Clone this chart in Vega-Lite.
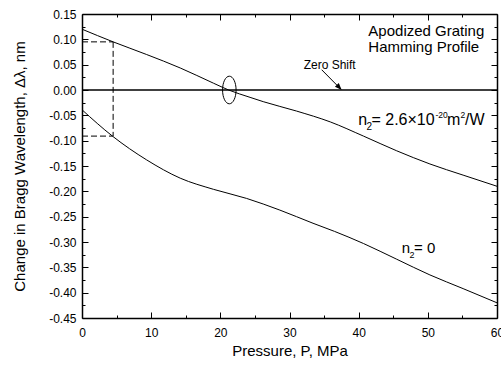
{
  "$schema": "https://vega.github.io/schema/vega-lite/v6.json",
  "width": 415,
  "height": 304,
  "autosize": {"type": "none"},
  "padding": {"left": 82, "top": 14, "right": 4, "bottom": 47},
  "background": "white",
  "config": {
    "view": {"stroke": null},
    "font": "Liberation Sans",
    "axis": {
      "grid": false,
      "domainColor": "black",
      "domainWidth": 1.5,
      "tickColor": "black",
      "tickWidth": 1,
      "tickSize": -6,
      "labelColor": "black",
      "labelFont": "Liberation Sans",
      "labelFontSize": 12,
      "titleFont": "Liberation Sans",
      "titleFontSize": 15,
      "titleFontWeight": "normal",
      "titleColor": "black"
    }
  },
  "layer": [
    {
      "data": {"values": [
        {"series": "n2=2.6e-20", "x": 0, "y": 0.12},
        {"series": "n2=2.6e-20", "x": 4.5, "y": 0.095},
        {"series": "n2=2.6e-20", "x": 9.35, "y": 0.07},
        {"series": "n2=2.6e-20", "x": 14.2, "y": 0.0435},
        {"series": "n2=2.6e-20", "x": 19, "y": 0.0135},
        {"series": "n2=2.6e-20", "x": 21.2, "y": 0.0},
        {"series": "n2=2.6e-20", "x": 24.3, "y": -0.0145},
        {"series": "n2=2.6e-20", "x": 26.2, "y": -0.023},
        {"series": "n2=2.6e-20", "x": 31, "y": -0.0415},
        {"series": "n2=2.6e-20", "x": 35.9, "y": -0.063},
        {"series": "n2=2.6e-20", "x": 40.7, "y": -0.091},
        {"series": "n2=2.6e-20", "x": 45.5, "y": -0.12},
        {"series": "n2=2.6e-20", "x": 50.3, "y": -0.146},
        {"series": "n2=2.6e-20", "x": 55.1, "y": -0.168},
        {"series": "n2=2.6e-20", "x": 60, "y": -0.19},
        {"series": "n2=0", "x": 0, "y": -0.039},
        {"series": "n2=0", "x": 4.4, "y": -0.091},
        {"series": "n2=0", "x": 9.35, "y": -0.138},
        {"series": "n2=0", "x": 14.2, "y": -0.174},
        {"series": "n2=0", "x": 19, "y": -0.196},
        {"series": "n2=0", "x": 23.8, "y": -0.214},
        {"series": "n2=0", "x": 28.6, "y": -0.237},
        {"series": "n2=0", "x": 33.4, "y": -0.263},
        {"series": "n2=0", "x": 36.5, "y": -0.279},
        {"series": "n2=0", "x": 40.7, "y": -0.303},
        {"series": "n2=0", "x": 45.5, "y": -0.334},
        {"series": "n2=0", "x": 50.3, "y": -0.365},
        {"series": "n2=0", "x": 55.1, "y": -0.392},
        {"series": "n2=0", "x": 60, "y": -0.42}
      ]},
      "mark": {"type": "line", "color": "black", "strokeWidth": 1, "interpolate": "monotone", "clip": true},
      "encoding": {
        "x": {
          "field": "x", "type": "quantitative",
          "scale": {"domain": [0, 60], "nice": false, "zero": false},
          "axis": {
            "orient": "bottom",
            "title": "Pressure, P, MPa",
            "values": [0, 5, 10, 15, 20, 25, 30, 35, 40, 45, 50, 55, 60],
            "labelExpr": "datum.value % 10 === 0 ? datum.label : ''",
            "tickDash": {"condition": {"test": "datum.value % 10 === 0", "value": [20, 0]}, "value": [3, 20]},
            "labelPadding": 15,
            "labelFlush": false,
            "titlePadding": 5
          }
        },
        "y": {
          "field": "y", "type": "quantitative",
          "scale": {"domain": [-0.45, 0.15], "nice": false, "zero": false},
          "axis": {
            "orient": "left",
            "title": "Change in Bragg Wavelength, Δλ, nm",
            "values": [-0.45, -0.425, -0.4, -0.375, -0.35, -0.325, -0.3, -0.275, -0.25, -0.225, -0.2, -0.175, -0.15, -0.125, -0.1, -0.075, -0.05, -0.025, 0, 0.025, 0.05, 0.075, 0.1, 0.125, 0.15],
            "labelExpr": "abs(round(datum.value*1000)) % 50 === 0 ? (datum.value < -0.0001 ? '-' : '') + format(abs(datum.value), '.2f') : ''",
            "tickDash": {"condition": {"test": "abs(round(datum.value*1000)) % 50 === 0", "value": [20, 0]}, "value": [3, 20]},
            "labelPadding": 12,
            "labelFlush": false,
            "titlePadding": 21
          }
        },
        "detail": {"field": "series"}
      }
    },
    {
      "data": {"values": [{"x": 0, "y": 0}, {"x": 60, "y": 0}]},
      "mark": {"type": "line", "color": "black", "strokeWidth": 1.5},
      "encoding": {
        "x": {
          "field": "x", "type": "quantitative",
          "axis": {
            "orient": "top", "title": null, "labels": false,
            "values": [0, 5, 10, 15, 20, 25, 30, 35, 40, 45, 50, 55, 60],
            "tickDash": {"condition": {"test": "datum.value % 10 === 0", "value": [20, 0]}, "value": [3, 20]}
          }
        },
        "y": {
          "field": "y", "type": "quantitative",
          "axis": {
            "orient": "right", "title": null, "labels": false,
            "values": [-0.45, -0.425, -0.4, -0.375, -0.35, -0.325, -0.3, -0.275, -0.25, -0.225, -0.2, -0.175, -0.15, -0.125, -0.1, -0.075, -0.05, -0.025, 0, 0.025, 0.05, 0.075, 0.1, 0.125, 0.15],
            "tickDash": {"condition": {"test": "abs(round(datum.value*1000)) % 50 === 0", "value": [20, 0]}, "value": [3, 20]}
          }
        }
      }
    },
    {
      "data": {"values": [
        {"g": "v", "x": 4.5, "y": 0.095},
        {"g": "v", "x": 4.5, "y": -0.091},
        {"g": "h1", "x": 0, "y": 0.095},
        {"g": "h1", "x": 4.5, "y": 0.095},
        {"g": "h2", "x": 0, "y": -0.091},
        {"g": "h2", "x": 4.5, "y": -0.091}
      ]},
      "mark": {"type": "line", "color": "black", "strokeWidth": 1, "strokeDash": [6, 3]},
      "encoding": {
        "x": {"field": "x", "type": "quantitative", "axis": null},
        "y": {"field": "y", "type": "quantitative", "axis": null},
        "detail": {"field": "g"}
      }
    },
    {
      "data": {"values": [{"x": 21.3, "y": 0}]},
      "mark": {"type": "point", "shape": "M0,-1 A0.49,1 0 1,1 0,1 A0.49,1 0 1,1 0,-1 Z", "size": 762, "filled": false, "stroke": "black", "strokeWidth": 1, "opacity": 1},
      "encoding": {
        "x": {"field": "x", "type": "quantitative", "axis": null},
        "y": {"field": "y", "type": "quantitative", "axis": null}
      }
    },
    {
      "data": {"values": [{"x": 34.65, "y": 0.04}, {"x": 37.4, "y": 0.002}]},
      "mark": {"type": "line", "color": "black", "strokeWidth": 1},
      "encoding": {
        "x": {"field": "x", "type": "quantitative", "axis": null},
        "y": {"field": "y", "type": "quantitative", "axis": null}
      }
    },
    {
      "data": {"values": [{"x": 37.55, "y": 0}]},
      "mark": {"type": "point", "shape": "M0,0 L-0.38,1 L0.38,1 Z", "size": 196, "filled": true, "fill": "black", "strokeWidth": 0, "angle": 136, "opacity": 1},
      "encoding": {
        "x": {"field": "x", "type": "quantitative", "axis": null},
        "y": {"field": "y", "type": "quantitative", "axis": null}
      }
    },
    {
      "data": {"values": [
        {"x": 32.05, "y": 0.041, "label": "Zero Shift", "size": 12},
        {"x": 41.4, "y": 0.107, "label": "Apodized Grating", "size": 15},
        {"x": 41.4, "y": 0.075, "label": "Hamming Profile", "size": 15},
        {"x": 39.95, "y": -0.0691, "label": "n", "size": 16},
        {"x": 41.14, "y": -0.079, "label": "2", "size": 10},
        {"x": 41.85, "y": -0.0691, "label": "= 2.6×10", "size": 16},
        {"x": 51.1, "y": -0.0562, "label": "-20", "size": 8.5},
        {"x": 52.76, "y": -0.0691, "label": "m", "size": 16},
        {"x": 54.72, "y": -0.0562, "label": "2", "size": 8.5},
        {"x": 55.37, "y": -0.0691, "label": "/W", "size": 16},
        {"x": 46.22, "y": -0.3211, "label": "n", "size": 15},
        {"x": 47.35, "y": -0.3316, "label": "2", "size": 9},
        {"x": 48.0, "y": -0.3211, "label": "= 0", "size": 15}
      ]},
      "mark": {"type": "text", "color": "black", "baseline": "alphabetic", "align": "left", "font": "Liberation Sans"},
      "encoding": {
        "x": {"field": "x", "type": "quantitative", "axis": null},
        "y": {"field": "y", "type": "quantitative", "axis": null},
        "text": {"field": "label"},
        "size": {"field": "size", "type": "quantitative", "scale": null},
        "align": {"condition": {"test": "datum.label === 'Zero Shift'", "value": "center"}, "value": "left"}
      }
    }
  ]
}
